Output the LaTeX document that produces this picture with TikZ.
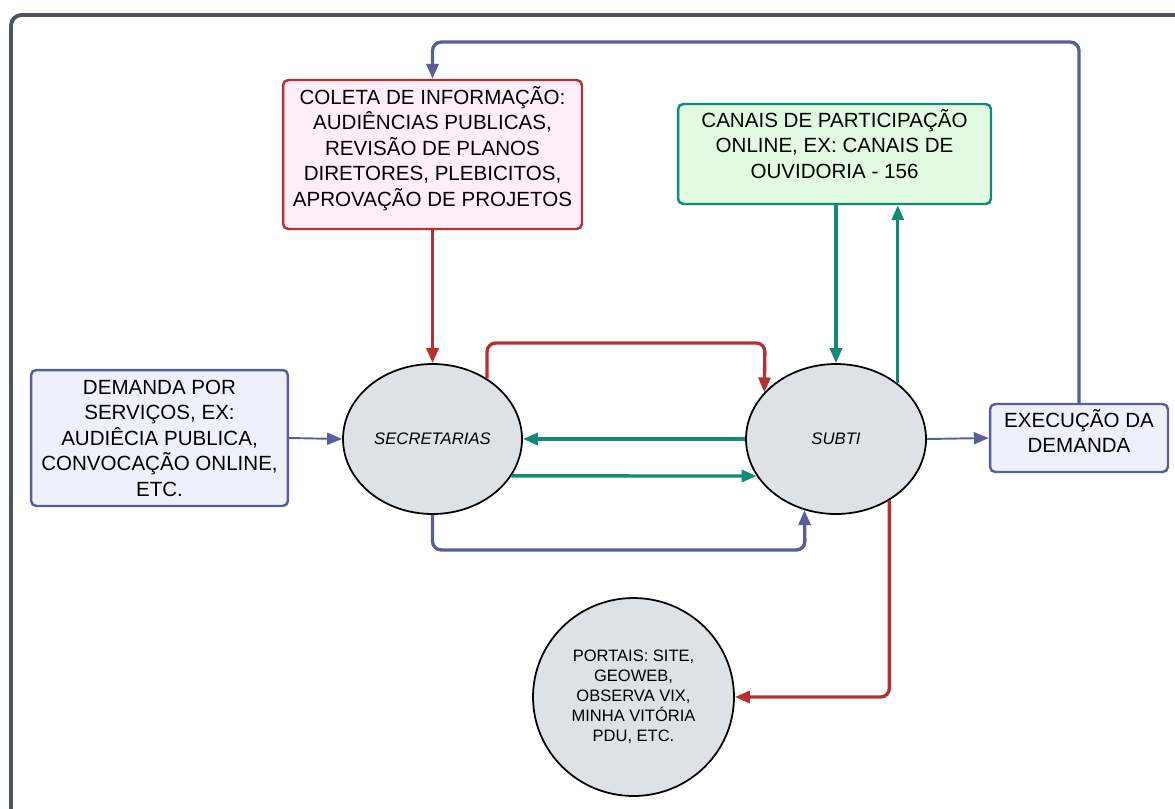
\documentclass[tikz,border=0pt]{standalone}
\usepackage{fontspec}
\setmainfont{Liberation Sans}
\usetikzlibrary{positioning}
\usetikzlibrary{arrows.meta}
\usetikzlibrary{shapes.geometric}
\definecolor{linkblue}{HTML}{595E9A}
\definecolor{linkred}{HTML}{B5302F}
\definecolor{linkgreen}{HTML}{128A76}
\definecolor{framegray}{HTML}{4E5561}
\definecolor{bluefill}{HTML}{F0F0FD}
\definecolor{redfill}{HTML}{FDEEF9}
\definecolor{greenfill}{HTML}{E2F9E2}
\definecolor{orgfill}{HTML}{DEE1E6}

\tikzset{
  box/.style={draw, rectangle, rounded corners=3pt, line width=1.4pt, align=center,
    font=\fontsize{11.7}{14.5}\selectfont, inner sep=2pt},
  org/.style={draw, ellipse, line width=1pt, fill=orgfill, align=center, inner sep=0pt},
  tip/.style={-{Triangle[length=0.3cm,width=0.24cm]}},
  redlink/.style={tip, color=linkred, line width=1.9pt, rounded corners=5pt},
  greenlink/.style={tip, color=linkgreen, line width=1.9pt, rounded corners=5pt},
  bluelink/.style={tip, color=linkblue, line width=1.9pt, rounded corners=5pt},
  thinlink/.style={tip, color=linkblue, line width=1.1pt}
}

\begin{document}
\begin{tikzpicture}[x=0.02cm, y=-0.02cm]
  \useasboundingbox (0,0) rectangle (1175,808);
  \clip (0,0) rectangle (1175,808);
  \draw[framegray, line width=2.2pt, rounded corners=6pt] (11,15) rectangle (1220,840);

  \node[box, draw=linkred, fill=redfill, minimum width=5.98cm, minimum height=2.98cm, text depth=9.5pt] (coleta) at (432.5,154.5)
    {COLETA DE INFORMAÇÃO:\\AUDIÊNCIAS PUBLICAS,\\REVISÃO DE PLANOS\\DIRETORES, PLEBICITOS,\\APROVAÇÃO DE PROJETOS};
  \node[box, draw=linkgreen, fill=greenfill, minimum width=6.26cm, minimum height=2cm, text depth=11.5pt] (canais) at (834.5,154)
    {CANAIS DE PARTICIPAÇÃO\\ONLINE, EX: CANAIS DE\\OUVIDORIA - 156};
  \node[box, draw=linkblue, fill=bluefill, minimum width=5.14cm, minimum height=2.72cm] (demanda) at (159.5,438)
    {DEMANDA POR\\SERVIÇOS, EX:\\AUDIÊCIA PUBLICA,\\CONVOCAÇÃO ONLINE,\\ETC.};
  \node[box, draw=linkblue, fill=bluefill, minimum width=3.56cm, minimum height=1.36cm, text depth=8pt] (exec) at (1079,438)
    {EXECUÇÃO DA\\DEMANDA};

  \node[org, minimum width=3.58cm, minimum height=3cm, font=\fontsize{9.5}{11}\selectfont\itshape] (sec) at (432.5,439) {SECRETARIAS};
  \node[org, minimum width=3.6cm, minimum height=3cm, font=\fontsize{9.5}{11}\selectfont\itshape] (sub) at (836,439) {SUBTI};
  \node[org, minimum width=4.02cm, minimum height=3.96cm, font=\fontsize{9.4}{11.4}\selectfont] (portais) at (633.5,697)
    {PORTAIS: SITE,\\GEOWEB,\\OBSERVA VIX,\\MINHA VITÓRIA\\PDU, ETC.};

  \coordinate (topturn) at (432.5,42);
  \coordinate (redturn) at (765,343);
  \coordinate (blueturn) at (805,550);

  \draw[thinlink] (demanda.east) -- (sec.west);
  \draw[redlink] (coleta.south) -- (sec.north);
  \draw[redlink] (sec.48) |- (redturn) -- (sub.147);
  \draw[greenlink] (sub.west) -- (sec.east);
  \draw[greenlink] (sec.-25.4) -- (sub.205.4);
  \draw[bluelink] (sec.south) |- (blueturn) -- (sub.246);
  \draw[greenlink] (sub.north |- canais.south) -- (sub.north);
  \draw[greenlink] (sub.42) -- (sub.42 |- canais.south);
  \draw[thinlink] (sub.east) -- (exec.west);
  \draw[bluelink] (exec.north) |- (topturn) -- (coleta.north);
  \draw[redlink] (sub.-49) |- (portais.east);
\end{tikzpicture}
\end{document}
